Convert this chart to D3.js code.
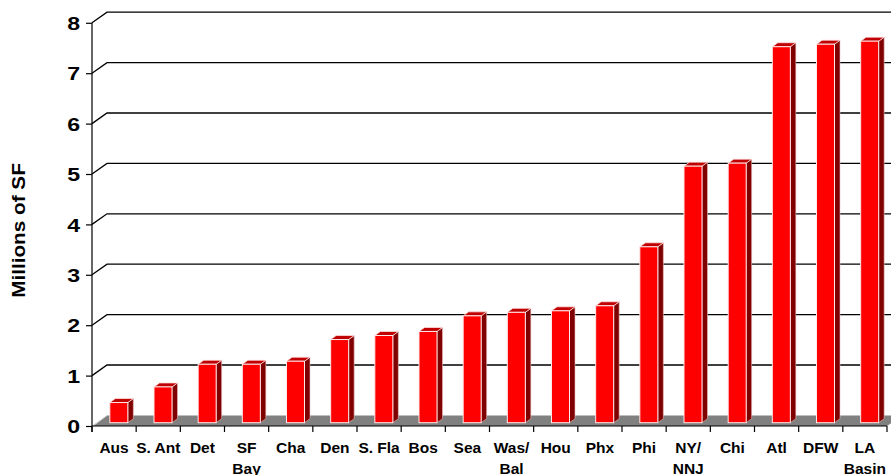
<!DOCTYPE html>
<html>
<head>
<meta charset="utf-8">
<script src="https://cdn.jsdelivr.net/npm/d3@7"></script>
<style>
  html, body { margin: 0; padding: 0; background: #fff; }
  svg { display: block; font-family: "Liberation Sans", Arial, sans-serif; font-weight: bold; }
</style>
</head>
<body>
<svg id="chart" width="891" height="475"></svg>
<script>
// Markets (two-line names split with "\n") and space in millions of SF
const markets = ["Aus", "S. Ant", "Det", "SF\nBay", "Cha", "Den", "S. Fla", "Bos", "Sea",
  "Was/\nBal", "Hou", "Phx", "Phi", "NY/\nNNJ", "Chi", "Atl", "DFW", "LA\nBasin"];
const millionsSF = [0.40, 0.71, 1.16, 1.16, 1.22, 1.65, 1.73, 1.81, 2.12,
  2.19, 2.22, 2.32, 3.49, 5.09, 5.15, 7.46, 7.51, 7.57];
const yTicks = [0, 1, 2, 3, 4, 5, 6, 7, 8];
const yTitle = "Millions of SF";

const svg = d3.select("#chart");

// Front plane of the 3-D box
const plotLeft = 92, plotRight = 887, plotBase = 426, plotTop = 22.8;
// Depth of the box (back wall offset)
const depthX = 15, depthY = 10.6;

const x = d3.scaleBand().domain(markets.map((d, i) => i)).range([plotLeft, plotRight]).padding(0);
const y = d3.scaleLinear().domain([0, 8]).range([plotBase, plotTop]);

// Back-wall gridlines with their diagonal links to the front axis
const grid = svg.append("g");
yTicks.filter(v => v > 0).forEach(v => {
  const yf = y(v), yb = y(v) - depthY;
  grid.append("path")
    .attr("d", `M${plotLeft},${yf}L${plotLeft + depthX},${yb}L${plotRight + depthX},${yb}`)
    .attr("fill", "none").attr("stroke", "#000").attr("stroke-width", 1.3);
});

// Floor
svg.append("path")
  .attr("d", `M${plotLeft},${plotBase}L${plotRight},${plotBase}L${plotRight + depthX},${plotBase - depthY}L${plotLeft + depthX},${plotBase - depthY}Z`)
  .attr("fill", "#808080");
svg.append("path")
  .attr("d", `M${plotLeft + 1},${plotBase}L${plotLeft + depthX},${plotBase - depthY}`)
  .attr("stroke", "#d8d8d8").attr("stroke-width", 1);

// Y axis (front)
const yAxis = svg.append("g")
  .attr("transform", `translate(${plotLeft},0)`)
  .call(d3.axisLeft(y).tickValues(yTicks).tickFormat(d3.format("d")).tickSize(6).tickPadding(0));
yAxis.select(".domain").remove();
yAxis.append("line").attr("x1", 0).attr("x2", 0).attr("y1", plotTop).attr("y2", plotBase + 6)
  .attr("stroke", "#000").attr("stroke-width", 1.2);
yAxis.selectAll(".tick line").attr("stroke", "#000").attr("stroke-width", 1.2);
yAxis.selectAll(".tick text")
  .attr("x", null).attr("dy", null)
  .attr("transform", "translate(-12,0) scale(1.25,1)")
  .attr("dominant-baseline", "central")
  .attr("text-anchor", "end")
  .attr("font-size", 18.5)
  .attr("font-weight", "bold")
  .attr("font-family", "'Liberation Sans', Arial, sans-serif")
  .attr("fill", "#000");

// X axis (front)
const xAxisG = svg.append("g");
xAxisG.append("line").attr("x1", plotLeft).attr("x2", plotRight).attr("y1", plotBase).attr("y2", plotBase)
  .attr("stroke", "#000").attr("stroke-width", 1.2);
d3.range(markets.length + 1).forEach(i => {
  const xx = plotLeft + i * x.bandwidth();
  xAxisG.append("line").attr("x1", xx).attr("x2", xx).attr("y1", plotBase).attr("y2", plotBase + 6)
    .attr("stroke", "#000").attr("stroke-width", 1.2);
});
markets.forEach((m, i) => {
  const t = xAxisG.append("text")
    .attr("text-anchor", "middle")
    .attr("font-size", 15.5)
    .attr("fill", "#000");
  m.split("\n").forEach((line, k) => {
    t.append("tspan").attr("x", x(i) + x.bandwidth() / 2).attr("y", 452.5 + k * 21).text(line);
  });
});

// 3-D bars
const barW = 18, frontDX = 4.75, frontDY = 3.3, barDX = 5.5, barDY = 4;
const bars = svg.append("g");
millionsSF.forEach((v, i) => {
  const x0 = x(i) + (x.bandwidth() - barW) / 2 + frontDX;
  const x1 = x0 + barW;
  const yt = y(v) - frontDY;
  const yb = y(0) - frontDY;
  const g = bars.append("g");
  // side
  g.append("path")
    .attr("d", `M${x1},${yt}L${x1 + barDX},${yt - barDY}L${x1 + barDX},${yb - barDY}L${x1},${yb}Z`)
    .attr("fill", "#800000").attr("stroke", "#e8c0c0").attr("stroke-width", 0.6);
  // top
  g.append("path")
    .attr("d", `M${x0},${yt}L${x0 + barDX},${yt - barDY}L${x1 + barDX},${yt - barDY}L${x1},${yt}Z`)
    .attr("fill", "#c00000").attr("stroke", "#ffe0e0").attr("stroke-width", 0.8);
  // front
  g.append("rect")
    .attr("x", x0).attr("y", yt).attr("width", barW).attr("height", yb - yt)
    .attr("fill", "#ff0000").attr("stroke", "#ffe8e8").attr("stroke-width", 1);
});

// Y axis title
svg.append("text")
  .attr("transform", "translate(24.5,230.5) rotate(-90) scale(1.12,1)")
  .attr("text-anchor", "middle")
  .attr("font-size", 18.5)
  .attr("fill", "#000")
  .text(yTitle);
</script>
</body>
</html>
